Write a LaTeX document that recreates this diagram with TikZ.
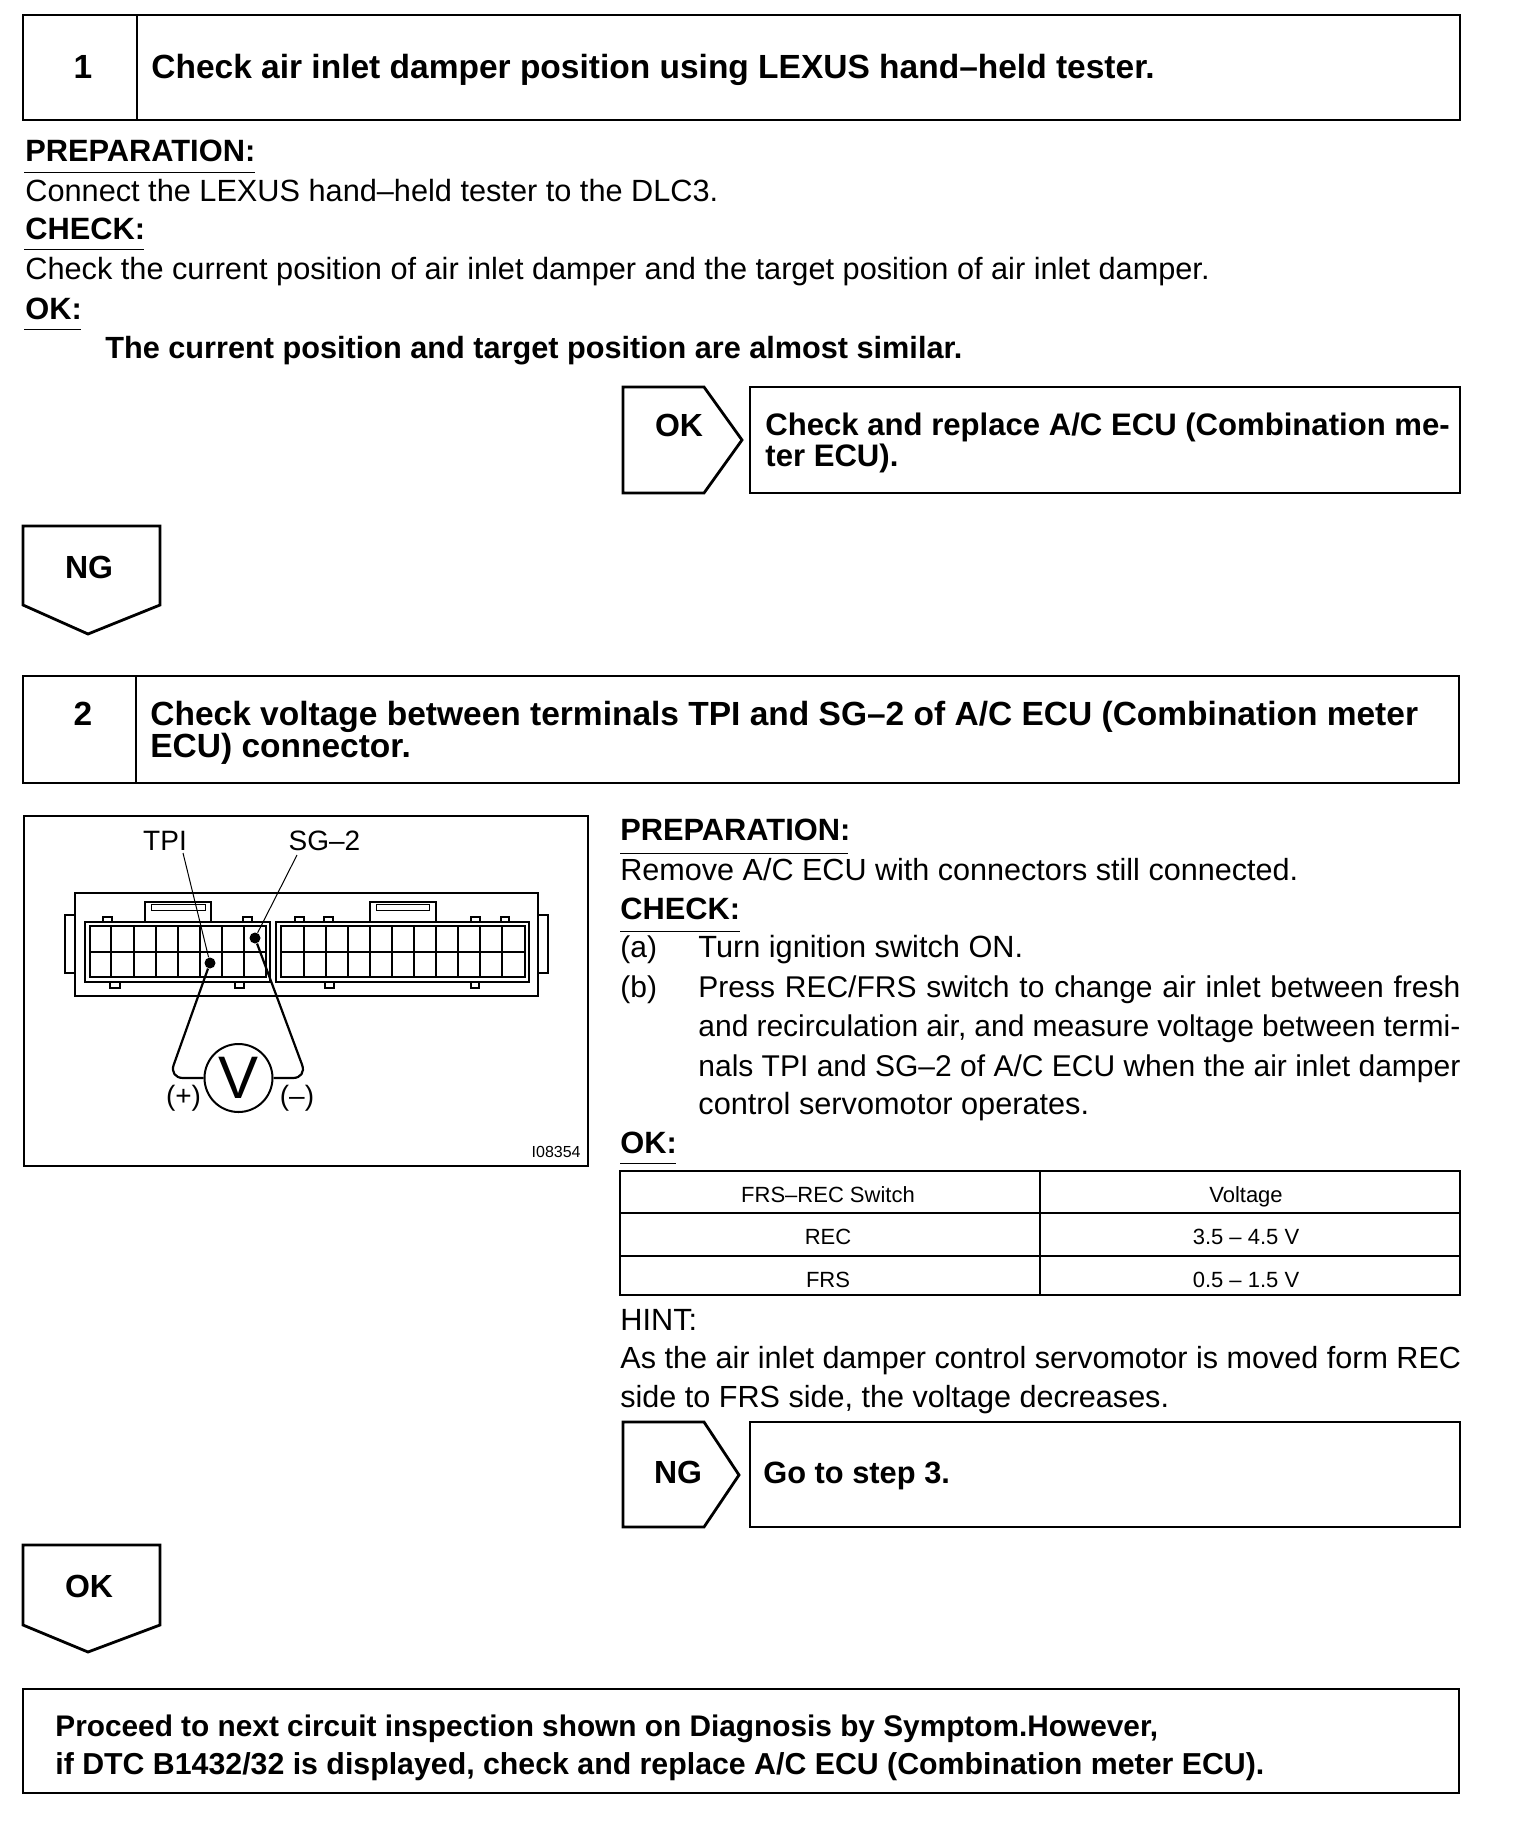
\documentclass[tikz,border=0pt]{standalone}
\usepackage{fontspec}
\setmainfont{Liberation Sans}
\usetikzlibrary{arrows.meta,positioning,calc}
\newcommand{\fitline}[1]{\makebox[381pt][s]{#1}}
\begin{document}
\begin{tikzpicture}[
    x=0.5pt,y=-0.5pt,
    frame/.style={line width=1.4pt,line join=miter},
    body/.style={anchor=base west,inner sep=0pt,font=\fontsize{15.35}{18}\selectfont},
    para/.style={anchor=base west,inner sep=0pt,font=\fontsize{15}{18}\selectfont},
    tight/.style={anchor=base west,inner sep=0pt,font=\fontsize{15.28}{18}\selectfont},
    head/.style={anchor=base west,inner sep=0pt,font=\fontsize{15.4}{18}\selectfont\bfseries},
    title/.style={anchor=base west,inner sep=0pt,font=\fontsize{16.75}{19}\selectfont\bfseries},
    tag/.style={anchor=base,inner sep=0pt,font=\fontsize{16}{18}\selectfont\bfseries},
    cell/.style={anchor=base,inner sep=0pt,font=\fontsize{11}{12}\selectfont},
    pin/.style={anchor=base,inner sep=0pt,font=\fontsize{14}{15}\selectfont},
    wire/.style={line width=1.1pt},
    dotmark/.style={circle,fill=black,inner sep=0pt,minimum size=5.5pt},
    meter/.style={circle,draw,line width=1pt,inner sep=0pt,minimum size=34pt,font=\fontsize{30}{30}\selectfont}
  ]
  \useasboundingbox (0,0) rectangle (1520,1824);

  % Step 1 box
  \draw[frame] (23,15) rectangle (1460,120);
  \draw[frame] (137,15) -- (137,120);
  \node[title,anchor=base] (n1) at (83,79) {1};
  \node[title] (t1) at (151,79) {Check air inlet damper position using LEXUS hand–held tester.};

  % Step 1 text
  \node[head] (p1) at (25,162) {PREPARATION:};
  \node[body] (p1a) at (25,202) {Connect the LEXUS hand–held tester to the DLC3.};
  \node[head] (c1) at (25,240) {CHECK:};
  \node[body] (c1a) at (25,280) {Check the current position of air inlet damper and the target position of air inlet damper.};
  \node[head] (o1) at (25,320) {OK:};
  \node[head,font=\fontsize{15.33}{18}\selectfont\bfseries] (o1a) at (105,358) {The current position and target position are almost similar.};
  \foreach \xa/\xb/\yy in {24/255/173,24/144/250,24/81/330,620/848/853,620/740/931,620/676/1163}{
    \draw[line width=0.5pt] (\xa,\yy) -- (\xb,\yy);
  }

  % OK arrow and result
  \draw[frame] (623,387) -- (704,387) -- (742,440) -- (704,493) -- (623,493) -- cycle;
  \node[tag] (ok1) at (679,437) {OK};
  \draw[frame] (750,387) rectangle (1460,493);
  \node[head,font=\fontsize{15.55}{18}\selectfont\bfseries] (r1a) at (765,435) {Check and replace A/C ECU (Combination me-};
  \node[head,font=\fontsize{15.55}{18}\selectfont\bfseries] (r1b) at (765,466) {ter ECU).};

  % NG arrow down
  \draw[frame] (23,526) -- (160,526) -- (160,605) -- (88,634) -- (23,605) -- cycle;
  \node[tag] (ng1) at (89,578) {NG};

  % Step 2 box
  \draw[frame] (23,676) rectangle (1459,783);
  \draw[frame] (136,676) -- (136,783);
  \node[title,anchor=base] (n2) at (83,725) {2};
  \node[title] (t2a) at (150,725) {Check voltage between terminals TPI and SG–2 of A/C ECU (Combination meter};
  \node[title] (t2b) at (150,757) {ECU) connector.};

  % Connector picture
  \draw[frame] (24,816) rectangle (588,1166);
  \draw[line width=0.9pt] (75,893) rectangle (538,996);
  \draw[line width=0.8pt] (75,915) -- (65,915) -- (65,973) -- (75,973);
  \draw[line width=0.8pt] (538,915) -- (548,915) -- (548,973) -- (538,973);
  \foreach \xa/\xb/\xc/\xd in {145/211/151/205,370/436/376/429}{
    \draw[line width=0.8pt] (\xa,922) -- (\xa,902) -- (\xb,902) -- (\xb,922);
    \draw[line width=0.5pt] (\xc,904) rectangle (\xd,910);
  }
  \foreach \xa/\xb in {103/112,243/252,295/304,324/333,471/480,501/509}{
    \draw[line width=0.7pt] (\xa,922) -- (\xa,917) -- (\xb,917) -- (\xb,922);
  }
  \foreach \xa/\xb in {110/120,235/244,325/334,471/479}{
    \draw[line width=0.7pt] (\xa,982) -- (\xa,988) -- (\xb,988) -- (\xb,982);
  }
  \draw[line width=0.7pt] (85,922) rectangle (270,982);
  \draw[line width=0.7pt] (276,922) rectangle (529,982);
  \draw[line width=0.7pt] (90,926) rectangle (266,977);
  \draw[line width=0.7pt] (281,926) rectangle (525,977);
  \draw[line width=0.9pt] (90,952) -- (266,952);
  \draw[line width=0.9pt] (281,952) -- (525,952);
  \foreach \xx in {111,134,156,178,200,222,244,304,326,348,370,392,414,436,458,480,502}{
    \draw[line width=0.7pt] (\xx,926) -- (\xx,977);
  }

  % Meter and test leads
  \node[meter] (vm) at (238.5,1078) {V};
  \node[dotmark] (tpi) at (210,963) {};
  \node[dotmark] (sg) at (255,938) {};
  \node[pin] (lbltpi) at (165,850) {TPI};
  \node[pin] (lblsg) at (324.5,850) {SG–2};
  \node[pin] (lblp) at (183.5,1105) {(+)};
  \node[pin] (lblm) at (297,1105) {(–)};
  \coordinate (tpitop) at (183,853);
  \coordinate (sgtop) at (297,855);
  \draw[line width=0.5pt] (tpitop) -- (tpi);
  \draw[line width=0.5pt] (sgtop) -- (sg);
  \draw[wire,rounded corners=7pt] (tpi) -- (169,1078) -- (vm.west);
  \draw[wire,rounded corners=7pt] (sg) -- (307,1078) -- (vm.east);
  \node[anchor=base east,inner sep=0pt,font=\fontsize{8}{9}\selectfont] (code) at (581,1157) {I08354};

  % Step 2 text
  \node[head] (p2) at (620,840) {PREPARATION:};
  \node[tight] (p2a) at (620,880) {Remove A/C ECU with connectors still connected.};
  \node[head] (c2) at (620,919) {CHECK:};
  \node[para] (c2a) at (620,957) {(a)};
  \node[body] (c2b) at (698,957) {Turn ignition switch ON.};
  \node[para] (c2c) at (620,997) {(b)};
  \node[para] (c2d) at (698,997) {\fitline{Press REC/FRS switch to change air inlet between fresh}};
  \node[para] (c2e) at (698,1036) {\fitline{and recirculation air, and measure voltage between termi-}};
  \node[para] (c2f) at (698,1076) {\fitline{nals TPI and SG–2 of A/C ECU when the air inlet damper}};
  \node[body] (c2g) at (698,1114) {control servomotor operates.};
  \node[head] (o2) at (620,1153) {OK:};

  % Table
  \draw[frame] (620,1171) rectangle (1460,1295);
  \draw[frame] (620,1213) -- (1460,1213);
  \draw[frame] (620,1256) -- (1460,1256);
  \draw[line width=1pt] (1040,1171) -- (1040,1295);
  \node[cell] (h1) at (828,1202) {FRS–REC Switch};
  \node[cell] (h2) at (1246,1202) {Voltage};
  \node[cell] (a1) at (828,1244) {REC};
  \node[cell] (a2) at (1246,1244) {3.5 – 4.5 V};
  \node[cell] (b1) at (828,1287) {FRS};
  \node[cell] (b2) at (1246,1287) {0.5 – 1.5 V};

  \node[body] (h2a) at (620,1330) {HINT:};
  \node[tight] (h2b) at (620,1368) {As the air inlet damper control servomotor is moved form REC};
  \node[tight] (h2c) at (620,1407) {side to FRS side, the voltage decreases.};

  % NG arrow and result
  \draw[frame] (623,1422) -- (704,1422) -- (739,1475) -- (704,1527) -- (623,1527) -- cycle;
  \node[tag] (ng2) at (678,1483) {NG};
  \draw[frame] (750,1422) rectangle (1460,1527);
  \node[head] (r2) at (763,1483) {Go to step 3.};

  % OK arrow down
  \draw[frame] (23,1545) -- (160,1545) -- (160,1625) -- (88,1652) -- (23,1625) -- cycle;
  \node[tag] (ok2) at (89,1597) {OK};

  % Last box
  \draw[frame] (23,1689) rectangle (1459,1793);
  \node[head,font=\fontsize{14.9}{18}\selectfont\bfseries] (e1) at (55,1736) {Proceed to next circuit inspection shown on Diagnosis by Symptom.However,};
  \node[head,font=\fontsize{15.15}{18}\selectfont\bfseries] (e2) at (55,1774) {if DTC B1432/32 is displayed, check and replace A/C ECU (Combination meter ECU).};

\end{tikzpicture}
\end{document}
